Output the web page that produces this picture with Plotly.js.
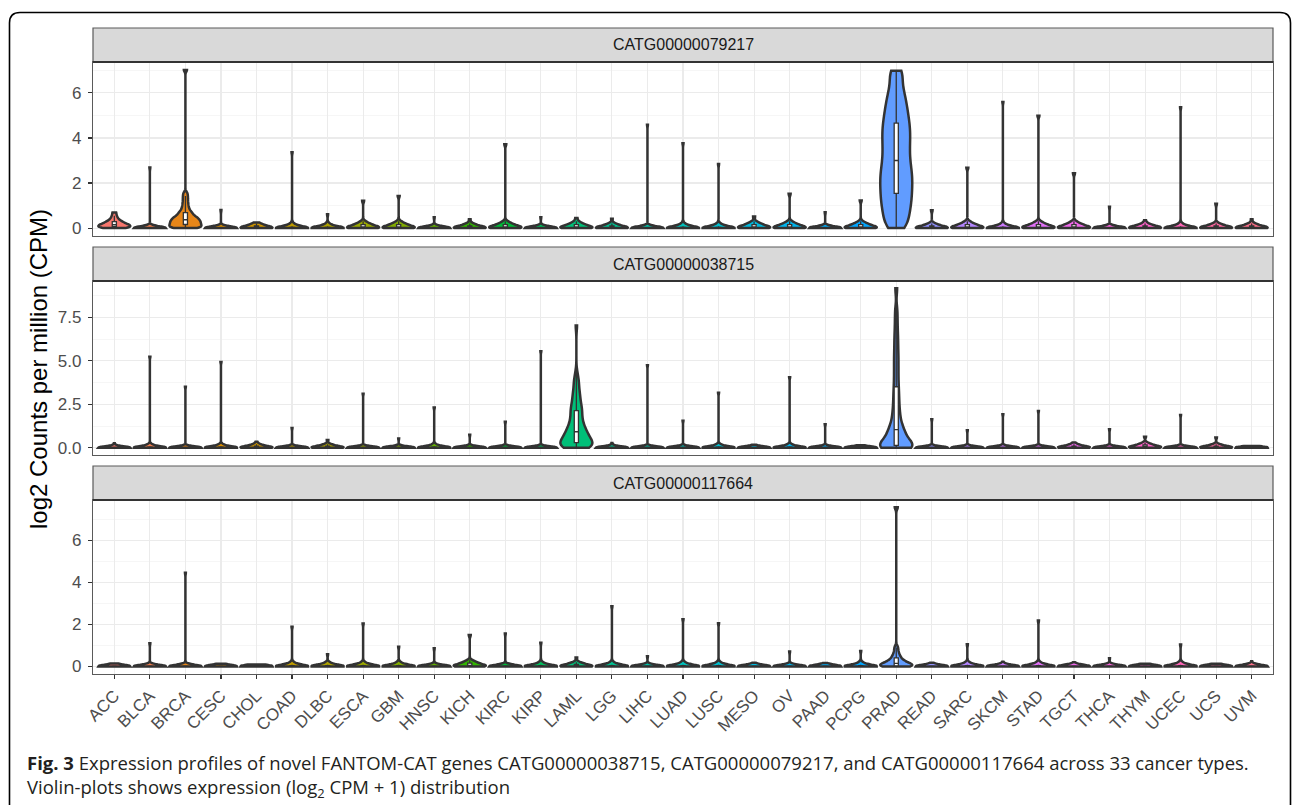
<!DOCTYPE html>
<html>
<head>
<meta charset="utf-8">
<script src="https://cdn.plot.ly/plotly-3.0.1.min.js"></script>
<style>
html,body{margin:0;padding:0;background:#ffffff;}
#chart{width:1292px;height:805px;}
</style>
</head>
<body>
<div id="chart"></div>
<script>
// ---------------- data ----------------
const cancerTypes = ['ACC','BLCA','BRCA','CESC','CHOL','COAD','DLBC','ESCA','GBM','HNSC','KICH','KIRC','KIRP','LAML','LGG','LIHC','LUAD','LUSC','MESO','OV','PAAD','PCPG','PRAD','READ','SARC','SKCM','STAD','TGCT','THCA','THYM','UCEC','UCS','UVM'];
const geneIds = ['CATG00000079217','CATG00000038715','CATG00000117664'];

// highest value (tip of each violin), log2(CPM+1)
const tipCATG79217  = [0.69,2.69,7.02,0.80,0.25,3.37,0.61,1.21,1.43,0.48,0.39,3.72,0.48,0.45,0.42,4.59,3.77,2.84,0.51,1.52,0.70,1.23,6.98,0.79,2.68,5.60,4.99,2.43,0.95,0.35,5.36,1.08,0.39];
const tipCATG38715  = [0.25,5.24,3.51,4.94,0.34,1.14,0.44,3.11,0.53,2.31,0.74,1.49,5.55,7.04,0.27,4.75,1.55,3.17,0.17,4.06,1.35,0.14,9.18,1.64,1.01,1.93,2.12,0.30,1.07,0.63,1.89,0.59,0.10];
const tipCATG117664 = [0.14,1.10,4.46,0.13,0.09,1.89,0.58,2.04,0.94,0.86,1.49,1.57,1.13,0.42,2.86,0.49,2.25,2.06,0.17,0.71,0.16,0.74,7.58,0.17,1.05,0.22,2.18,0.20,0.39,0.13,1.04,0.13,0.25];

// estimated sample profiles below the tip
const flat  = [0,0,0,0,0,0,0,0,0,0,0,0,0,0,0,0,0,0,0,0,0,0,0,0,0,0,0,0,0,0,0,0,0.02,0.03,0.04,0.06,0.08];
const flare = [0,0,0,0,0,0,0,0,0,0,0,0,0,0,0,0,0,0,0,0,0,0,0,0,0,0,0.02,0.03,0.04,0.06,0.08,0.1,0.12,0.15,0.18,0.22];
const mound = [0,0,0,0,0,0,0,0,0,0,0,0,0,0,0.01,0.02,0.04,0.05,0.06,0.08,0.1,0.12,0.14,0.16,0.18,0.2];
const blob  = [0,0,0,0,0,0,0,0,0.01,0.02,0.03,0.04,0.05,0.07,0.08,0.09,0.11,0.12,0.15,0.17,0.19,0.22,0.24,0.3];
const accCATG79217  = [0,0,0.02,0.04,0.05,0.07,0.08,0.1,0.11,0.13,0.15,0.17,0.19,0.22,0.25,0.28,0.32,0.37,0.45,0.55];
const brcaCATG79217 = [0,0,0.01,0.03,0.05,0.06,0.08,0.1,0.12,0.14,0.16,0.18,0.2,0.22,0.24,0.26,0.28,0.3,0.32,0.34,0.36,0.38,0.41,0.43,0.45,0.48,0.5,0.53,0.57,0.61,0.65,0.69,0.74,0.8,0.88,0.97,1.07,1.18,1.3,1.42,1.55];
const pradCATG79217 = [0,0.12,0.32,0.51,0.66,0.82,0.98,1.12,1.26,1.40,1.54,1.68,1.81,1.95,2.08,2.22,2.35,2.48,2.63,2.77,2.92,3.08,3.24,3.40,3.56,3.72,3.88,4.03,4.19,4.34,4.49,4.66,4.82,4.99,5.18,5.37,5.57,5.80,6.04,6.35,6.76];
const lamlCATG38715 = [0,0,0,0.01,0.02,0.04,0.06,0.08,0.1,0.12,0.14,0.16,0.18,0.2,0.22,0.25,0.28,0.31,0.34,0.37,0.4,0.44,0.48,0.52,0.56,0.6,0.64,0.68,0.72,0.76,0.8,0.84,0.88,0.92,0.97,1.02,1.07,1.13,1.19,1.25,1.32,1.39,1.46,1.54,1.62,1.7,1.79,1.88,1.98,2.08,2.15,2.2,2.32,2.4,2.45,2.6,2.76,2.85,2.94,3.14,3.25,3.38,3.65,3.8,3.95,4.3];
const pradCATG38715 = [0,0,0,0,0,0,0.01,0.02,0.04,0.06,0.08,0.11,0.15,0.19,0.25,0.32,0.4,0.48,0.56,0.64,0.72,0.8,0.88,0.96,1.04,1.12,1.25,1.4,1.56,1.74,1.93,2.14,2.37,2.62,2.88,3.15,3.43,3.75,4.1,4.45,4.8,5.15,5.5,5.9,6.3,6.75,7.3,7.9];
const pradCATG117664 = [0,0,0,0.01,0.02,0.04,0.06,0.08,0.1,0.13,0.16,0.2,0.24,0.3,0.36,0.45,0.55,0.7,0.9];

const bulkCATG79217 = [accCATG79217,flat,brcaCATG79217,flat,mound,flare,flare,blob,blob,flat,mound,blob,flat,blob,mound,flat,flare,flare,blob,blob,flat,blob,pradCATG79217,mound,blob,flare,blob,blob,flat,mound,flare,mound,mound];
const bulkCATG38715 = [flat,flare,flat,flare,mound,flat,mound,flat,flat,flare,flat,flat,flat,lamlCATG38715,flat,flat,flat,flare,flat,flare,flat,flat,pradCATG38715,flat,flat,flat,flat,mound,flat,blob,flat,mound,flat];
const bulkCATG117664 = [flat,flat,flat,flat,flat,flare,flare,flare,flare,flat,blob,flat,flare,mound,flare,flat,flare,flare,flat,flat,flat,flare,pradCATG117664,flat,flare,flat,flare,flat,flat,flat,flare,flat,flat];

// ---------------- styling ----------------
const smoothing = new Map([[pradCATG79217,0.35],[brcaCATG79217,0.08],[lamlCATG38715,0.3],[pradCATG38715,0.35],[pradCATG117664,0.11]]);
function hueColor(h){
  const L=65,C=100,hr=h*Math.PI/180;
  const U=C*Math.cos(hr),V=C*Math.sin(hr);
  const Y=100*Math.pow((L+16)/116,3);
  const u=U/(13*L)+0.1978398, v=V/(13*L)+0.4683363;
  const X=9*Y*u/(4*v), Z=-X/3-5*Y+3*Y/v;
  const g=t=>t>0.00304?1.055*Math.pow(t,1/2.4)-0.055:12.92*t;
  const rgb=[g((3.240479*X-1.537150*Y-0.498535*Z)/100),g((-0.969256*X+1.875992*Y+0.041556*Z)/100),g((0.055648*X-0.204043*Y+1.057311*Z)/100)];
  return '#'+rgb.map(c=>Math.round(Math.min(1,Math.max(0,c))*255).toString(16).padStart(2,'0')).join('');
}
const fills = cancerTypes.map((c,i)=>hueColor(15+i*360/cancerTypes.length));

const W=1292,H=805;
const px=x=>x/W, py=y=>1-y/H;
const panelLeft=93, panelRight=1273;
const panelPix=[[62,236],[281,455],[500,674]];
const stripPix=[[28,62],[247,281],[466,500]];
const yRanges=[[-0.35,7.37],[-0.42,9.6],[-0.36,7.92]];
const yDticks=[2,2.5,2];
const tickFont={family:'Liberation Sans, Arial, sans-serif',size:17,color:'#4D4D4D'};

const panels=[
  {tips:tipCATG79217, bulks:bulkCATG79217},
  {tips:tipCATG38715, bulks:bulkCATG38715},
  {tips:tipCATG117664, bulks:bulkCATG117664}
];

const traces=[];
panels.forEach((pn,p)=>{
  const xa = p===0?'x':'x'+(p+1), ya = p===0?'y':'y'+(p+1);
  cancerTypes.forEach((ct,i)=>{
    const bulk=pn.bulks[i];
    const ys=bulk.concat([pn.tips[i]]);
    traces.push({
      type:'violin', x:ys.map(()=>ct), y:ys, xaxis:xa, yaxis:ya,
      name:geneIds[p]+' '+ct, scalegroup:geneIds[p]+'_'+ct, scalemode:'width',
      spanmode:'hard', width:0.9, bandwidth: smoothing.has(bulk)?smoothing.get(bulk):0.075,
      points:false, fillcolor:fills[i], opacity:1,
      line:{color:'#333333',width:2.5},
      box:{visible:true,width:0.13,fillcolor:'#FFFFFF',line:{color:'#333333',width:1.3}},
      meanline:{visible:false}, showlegend:false, hoverinfo:'skip'
    });
  });
});

const layout={
  width:W,height:H,margin:{l:0,r:0,t:0,b:0},
  paper_bgcolor:'#FFFFFF',plot_bgcolor:'#FFFFFF',
  violinmode:'overlay',showlegend:false,
  shapes:[],annotations:[]
};
panels.forEach((pn,p)=>{
  const sx = p===0?'':String(p+1);
  layout['xaxis'+sx]={
    domain:[px(panelLeft),px(panelRight)], anchor:'y'+sx, type:'category',
    categoryorder:'array', categoryarray:cancerTypes, range:[-0.6,cancerTypes.length-0.4],
    showgrid:true, gridcolor:'#EBEBEB', gridwidth:1.1, zeroline:false,
    showline:true, mirror:true, linecolor:'#5a5a5a', linewidth:1.2,
    ticks: p===2?'outside':'', ticklen:4, tickwidth:1.1, tickcolor:'#333333',
    showticklabels: p===2, tickangle:-45, tickfont:tickFont, fixedrange:true
  };
  layout['yaxis'+sx]={
    domain:[py(panelPix[p][1]),py(panelPix[p][0])], anchor:'x'+sx,
    range:yRanges[p], tick0:0, dtick:yDticks[p], tickformat: p===1?'.1f':'',
    showgrid:true, gridcolor:'#EBEBEB', gridwidth:1.1, zeroline:false,
    minor:{dtick:yDticks[p]/2, showgrid:true, gridcolor:'#F2F2F2', gridwidth:0.7},
    showline:true, mirror:true, linecolor:'#5a5a5a', linewidth:1.2,
    ticks:'outside', ticklen:4, tickwidth:1.1, tickcolor:'#333333', ticklabelstandoff:3,
    tickfont:tickFont, fixedrange:true
  };
  layout.shapes.push({type:'rect',xref:'paper',yref:'paper',x0:px(panelLeft),x1:px(panelRight),
    y0:py(stripPix[p][1]),y1:py(stripPix[p][0]),fillcolor:'#D9D9D9',line:{color:'#5a5a5a',width:1.2},layer:'above'});
  layout.shapes.push({type:'line',xref:'paper',yref:'paper',x0:px(panelLeft),x1:px(panelRight),
    y0:py(stripPix[p][1]),y1:py(stripPix[p][1]),line:{color:'#333333',width:2},layer:'above'});
  layout.annotations.push({xref:'paper',yref:'paper',x:px((panelLeft+panelRight)/2),y:py((stripPix[p][0]+stripPix[p][1])/2),
    text:geneIds[p],showarrow:false,xanchor:'center',yanchor:'middle',
    font:{family:'Liberation Sans, Arial, sans-serif',size:16,color:'#1A1A1A'}});
});
// y title
layout.annotations.push({xref:'paper',yref:'paper',x:px(39),y:py(369),text:'log2 Counts per million (CPM)',
  textangle:-90,showarrow:false,xanchor:'center',yanchor:'middle',
  font:{family:'Liberation Sans, Arial, sans-serif',size:24,color:'#000000'}});
// caption
layout.annotations.push({xref:'paper',yref:'paper',x:px(25),y:py(762),xanchor:'left',yanchor:'middle',showarrow:false,align:'left',
  text:'<b>Fig. 3</b> Expression profiles of novel FANTOM-CAT genes CATG00000038715, CATG00000079217, and CATG00000117664 across 33 cancer types.',
  font:{family:'Open Sans, Noto Sans, sans-serif',size:18.5,color:'#231F20'}});
layout.annotations.push({xref:'paper',yref:'paper',x:px(25),y:py(788),xanchor:'left',yanchor:'middle',showarrow:false,align:'left',
  text:'Violin-plots shows expression (log<sub>2</sub> CPM + 1) distribution',
  font:{family:'Open Sans, Noto Sans, sans-serif',size:18.5,color:'#231F20'}});
// outer rounded frame
const P=(x,y)=>px(x).toFixed(5)+','+py(y).toFixed(5);
layout.shapes.push({type:'path',xref:'paper',yref:'paper',layer:'above',
  path:'M'+P(9.5,805)+' L'+P(9.5,23)+' Q'+P(9.5,12.5)+' '+P(20,12.5)+' L'+P(1280,12.5)+' Q'+P(1290.5,12.5)+' '+P(1290.5,23)+' L'+P(1290.5,805),
  line:{color:'#000000',width:1.6}});

Plotly.newPlot('chart',traces,layout,{staticPlot:true,displayModeBar:false});
</script>
</body>
</html>
